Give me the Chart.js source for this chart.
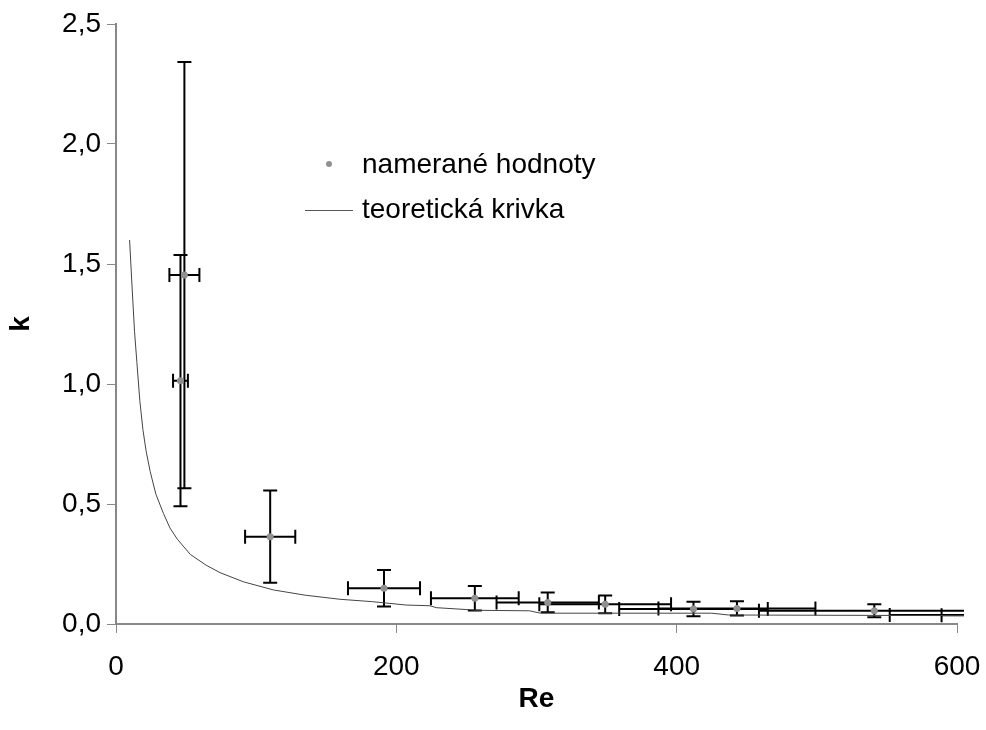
<!DOCTYPE html>
<html>
<head>
<meta charset="utf-8">
<script src="https://cdn.jsdelivr.net/npm/chart.js@4.4.0/dist/chart.umd.min.js"></script>
<style>
  html, body { margin: 0; padding: 0; background: #fff; }
</style>
</head>
<body>
<canvas id="plot-data" width="986" height="730"></canvas>
<script>
// measured values (Re, k) with their errors
const measRe = [48.8, 46.0, 110.0, 191.2, 256, 308, 349, 412, 443, 541, 650, 700]
const measK = [1.454, 1.014, 0.364, 0.149, 0.107, 0.090, 0.082, 0.0625, 0.065, 0.0556, 0.037, 0.036]
const errRe = [10.7, 5.3, 17.9, 25.7, 31.3, 36.5, 47, 53, 56, 82.3, 98, 111]
const errK = [0.888, 0.523, 0.192, 0.076, 0.051, 0.041, 0.037, 0.030, 0.030, 0.027, 0.02, 0.02]

// theoretical curve
const curveRe = [9.7, 11.5, 13.2, 14.9, 17, 19.2, 21.5, 24.4, 28.5, 33.9, 38.5, 43.8, 53, 64.3, 74.2, 90.8, 112.2, 135, 159.7, 183, 207, 224, 228.5, 259, 295, 303, 425, 437, 599, 605]
const curveK = [1.60, 1.40, 1.22, 1.09, 0.93, 0.81, 0.72, 0.635, 0.54, 0.46, 0.40, 0.353, 0.29, 0.245, 0.214, 0.176, 0.142, 0.12, 0.103, 0.093, 0.079, 0.076, 0.068, 0.057, 0.055, 0.045, 0.045, 0.0375, 0.035, 0.035]

const xTicks = [0, 200, 400, 600]
const legendLabels = ['namerané hodnoty', 'teoretická krivka']

const FONT = 'Arial, "Liberation Sans", sans-serif'
const FSIZE = 28

const measPoints = []
for (let i = 0; i < measRe.length; i++) {
    measPoints.push({ x: measRe[i], y: measK[i] })
}
const curvePoints = []
for (let i = 0; i < curveRe.length; i++) {
    curvePoints.push({ x: curveRe[i], y: curveK[i] })
}

// error bars, drawn under the points
const errorBars = {
    id: 'errorBars',
    beforeDatasetsDraw(chart) {
        const ctx = chart.ctx
        const xs = chart.scales.x
        const ys = chart.scales.y
        const area = chart.chartArea
        ctx.save()
        ctx.beginPath()
        ctx.rect(area.left, area.top - 2, area.right - area.left + 7, area.bottom - area.top + 4)
        ctx.clip()
        ctx.strokeStyle = '#000'
        ctx.lineWidth = 2
        const cap = 7
        for (let i = 0; i < measRe.length; i++) {
            const px = xs.getPixelForValue(measRe[i])
            const py = ys.getPixelForValue(measK[i])
            const yTop = ys.getPixelForValue(measK[i] + errK[i])
            const yBot = ys.getPixelForValue(measK[i] - errK[i])
            const xL = xs.getPixelForValue(measRe[i] - errRe[i])
            const xR = xs.getPixelForValue(measRe[i] + errRe[i])
            ctx.beginPath()
            ctx.moveTo(px, yTop); ctx.lineTo(px, yBot)
            ctx.moveTo(px - cap, yTop); ctx.lineTo(px + cap, yTop)
            ctx.moveTo(px - cap, yBot); ctx.lineTo(px + cap, yBot)
            ctx.moveTo(xL, py); ctx.lineTo(xR, py)
            ctx.moveTo(xL, py - cap); ctx.lineTo(xL, py + cap)
            ctx.moveTo(xR, py - cap); ctx.lineTo(xR, py + cap)
            ctx.stroke()
        }
        ctx.restore()
    }
}

// legend in the middle of the plot
const insideLegend = {
    id: 'insideLegend',
    afterDraw(chart) {
        const ctx = chart.ctx
        ctx.save()
        ctx.fillStyle = '#909090'
        ctx.beginPath()
        ctx.arc(329, 164, 3, 0, Math.PI * 2)
        ctx.fill()
        ctx.strokeStyle = '#555'
        ctx.lineWidth = 1
        ctx.beginPath()
        ctx.moveTo(305, 210.5); ctx.lineTo(353, 210.5)
        ctx.stroke()
        ctx.fillStyle = '#000'
        ctx.font = FSIZE + 'px ' + FONT
        ctx.textBaseline = 'middle'
        ctx.fillText(legendLabels[0], 362, 165)
        ctx.fillText(legendLabels[1], 362, 210)
        ctx.restore()
    }
}

var ctx = document.getElementById('plot-data').getContext('2d')
var chart = new Chart(ctx, {
    type: 'scatter',
    data: {
        datasets: [{
            label: legendLabels[1],
            type: 'line',
            data: curvePoints,
            borderColor: '#444',
            borderWidth: 1,
            pointRadius: 0,
            tension: 0,
            clip: { left: 0, top: 0, right: 7, bottom: 0 }
        }, {
            label: legendLabels[0],
            data: measPoints,
            backgroundColor: '#909090',
            borderColor: '#909090',
            pointRadius: 3.5,
            borderWidth: 0
        }]
    },
    options: {
        responsive: false,
        animation: false,
        layout: { padding: { top: 24, right: 29, left: 0, bottom: 0 } },
        plugins: {
            legend: { display: false },
            tooltip: { enabled: false }
        },
        scales: {
            x: {
                type: 'linear',
                min: 0,
                max: 600,
                afterBuildTicks(scale) {
                    scale.ticks = xTicks.map(v => ({ value: v }))
                },
                afterFit(scale) {
                    scale.height = 106
                    scale.paddingRight = 0
                    scale.paddingLeft = 0
                },
                ticks: {
                    color: '#000',
                    font: { family: FONT, size: FSIZE },
                    padding: 17,
                    maxRotation: 0
                },
                grid: { drawOnChartArea: false, tickLength: 9, color: '#888' },
                border: { color: '#888', width: 2 },
                title: {
                    display: true,
                    text: 'Re',
                    color: '#000',
                    font: { family: FONT, size: FSIZE, weight: 'bold' },
                    padding: { top: 0, bottom: 14 }
                }
            },
            y: {
                min: 0,
                max: 2.5,
                afterFit(scale) {
                    scale.width = 116
                    scale.paddingTop = 0
                    scale.paddingBottom = 0
                },
                ticks: {
                    stepSize: 0.5,
                    color: '#000',
                    font: { family: FONT, size: FSIZE },
                    padding: 6,
                    callback: v => v.toFixed(1).replace('.', ',')
                },
                grid: { drawOnChartArea: false, tickLength: 9, color: '#888' },
                border: { color: '#888', width: 2 },
                title: {
                    display: true,
                    text: 'k',
                    color: '#000',
                    font: { family: FONT, size: FSIZE, weight: 'bold' },
                    padding: { top: 4, bottom: 0 }
                }
            }
        }
    },
    plugins: [errorBars, insideLegend]
})
</script>
</body>
</html>
